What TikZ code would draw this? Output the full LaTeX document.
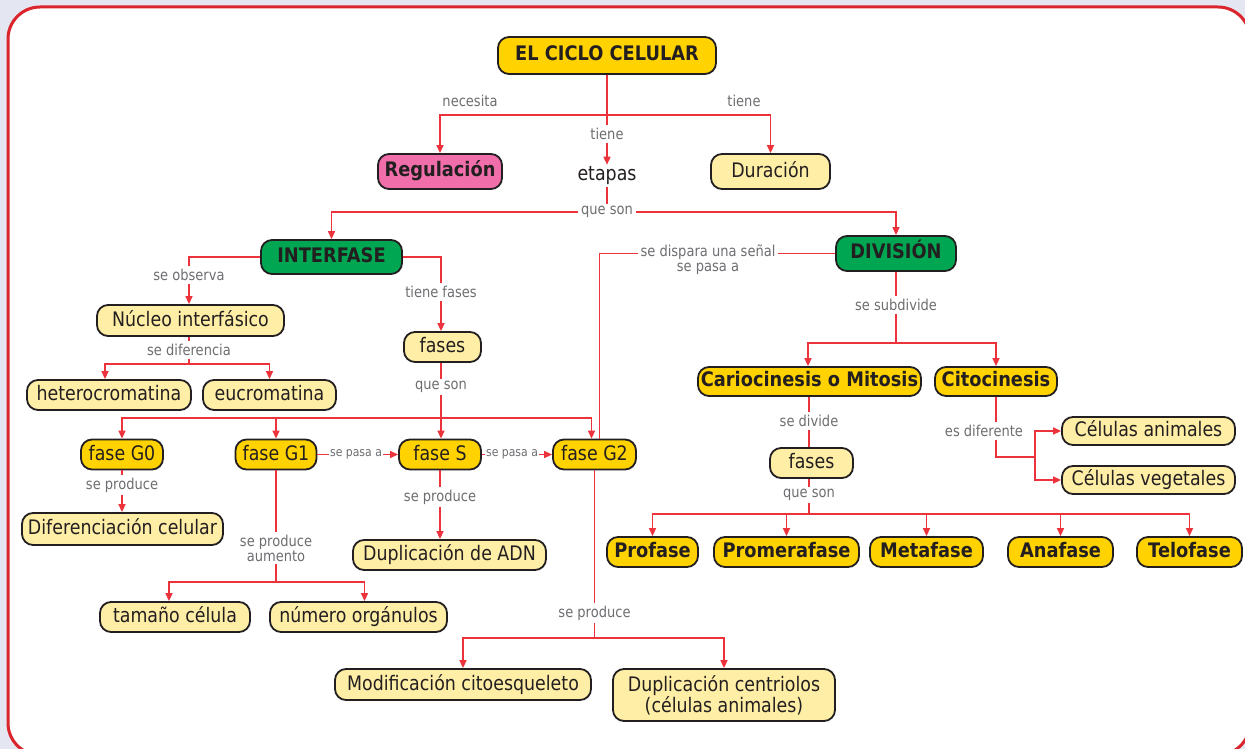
\documentclass[tikz,border=0pt]{standalone}
\usepackage{fontspec}
\setmainfont{DejaVu Sans}
\newfontfamily\mapfont{DejaVu Sans}[FakeStretch=0.87]
\newfontfamily\mapbold{DejaVu Sans}[FakeStretch=0.89]
\usepackage{tikz}
\usetikzlibrary{arrows.meta,positioning,calc}
\definecolor{mapbg}{RGB}{228,230,242}
\definecolor{mapframe}{RGB}{218,37,45}
\definecolor{mapline}{RGB}{236,50,58}
\definecolor{mapink}{RGB}{35,31,32}
\definecolor{mapgold}{RGB}{255,210,0}
\definecolor{maplight}{RGB}{255,238,166}
\definecolor{mapgreen}{RGB}{0,166,81}
\definecolor{mappink}{RGB}{240,110,170}
\definecolor{maplabel}{RGB}{109,110,113}
\tikzset{
  conceptbase/.style={rectangle, rounded corners=11pt, draw=mapink, line width=1.8pt,
                      inner sep=0pt, minimum height=30pt, text=mapink,
                      font=\mapfont\fontsize{20}{21}\selectfont},
  lightbox/.style={conceptbase, fill=maplight, text height=15pt, text depth=4pt},
  goldbox/.style={lightbox, fill=mapgold},
  keybox/.style={conceptbase, fill=mapgold, text height=14.5pt, text depth=4pt,
                 font=\mapbold\bfseries\fontsize{20}{21}\selectfont},
  plaintext/.style={inner sep=2pt, text=mapink, font=\mapfont\fontsize{20}{21}\selectfont},
  linklabel/.style={inner sep=2.5pt, fill=white, text=maplabel,
                    font=\mapfont\fontsize{15}{15}\selectfont},
  smalllabel/.style={linklabel, inner sep=1pt, font=\mapfont\fontsize{12.5}{14}\selectfont},
  conn/.style={draw=mapline, line width=1.4pt},
  connarr/.style={conn, -{Triangle[length=8pt,width=7pt]}},
}
\begin{document}
\begin{tikzpicture}[x=1pt, y=-1pt]
  \useasboundingbox (0,0) rectangle (1245,749);
  % frame
  \fill[mapbg] (0,0) rectangle (1245,749);
  \filldraw[fill=white, draw=mapframe, line width=3pt, rounded corners=32pt] (8,7) rectangle (1250,755);
  % top level
  \node[keybox, minimum width=218pt, minimum height=37pt] (ciclo) at (607,55.5) {EL CICLO CELULAR};
  \node[keybox, fill=mappink, minimum width=124pt, minimum height=35pt] (regul) at (440,171.5) {Regulación};
  \node[plaintext] (etapas) at (607,176) {etapas};
  \node[lightbox, minimum width=119pt, minimum height=35pt] (durac) at (770.5,171.5) {Duración};
  \node[keybox, fill=mapgreen, minimum width=141pt, minimum height=34pt] (interf) at (331.5,257) {INTERFASE};
  \node[keybox, fill=mapgreen, minimum width=120pt, minimum height=35pt] (divis) at (896,253.5) {DIVISIÓN};
  % interfase side
  \node[lightbox, minimum width=187pt, minimum height=31pt] (nucleo) at (190.5,320.5) {Núcleo interfásico};
  \node[lightbox, minimum width=164pt] (hetero) at (109,395) {heterocromatina};
  \node[lightbox, minimum width=133pt] (eucro) at (269.5,395) {eucromatina};
  \node[lightbox, minimum width=77pt] (fasesL) at (442.5,347) {fases};
  \node[goldbox, minimum width=82pt] (g0) at (122,454.5) {fase G0};
  \node[goldbox, minimum width=81pt] (g1) at (276,454.5) {fase G1};
  \node[goldbox, minimum width=82pt] (fS) at (440,454.5) {fase S};
  \node[goldbox, minimum width=83pt] (g2) at (594.5,454.5) {fase G2};
  \node[lightbox, minimum width=201pt, minimum height=32pt] (difer) at (122.5,529) {Diferenciación celular};
  \node[lightbox, minimum width=193pt] (adn) at (449.5,555) {Duplicación de ADN};
  \node[lightbox, minimum width=150pt] (tamano) at (175,617) {tamaño célula};
  \node[lightbox, minimum width=177pt] (numero) at (358.5,617) {número orgánulos};
  \node[lightbox, minimum width=256pt, minimum height=31pt] (modif) at (463,684.5) {Modificación citoesqueleto};
  \node[conceptbase, fill=maplight, align=center, minimum width=222pt, minimum height=52pt] (centr) at (724,695) {Duplicación centriolos\\(células animales)};
  % division side
  \node[keybox, minimum width=223pt, minimum height=29pt] (cario) at (809.5,381.5) {Cariocinesis o Mitosis};
  \node[keybox, minimum width=122pt, minimum height=29pt] (citoc) at (996,381.5) {Citocinesis};
  \node[lightbox, minimum width=83pt] (fasesR) at (811.5,463) {fases};
  \node[lightbox, minimum width=173pt, minimum height=28pt] (anim) at (1148.5,431) {Células animales};
  \node[lightbox, minimum width=173pt, minimum height=28pt] (veget) at (1148.5,480) {Células vegetales};
  \node[keybox, minimum width=91pt] (prof) at (652.5,552) {Profase};
  \node[keybox, minimum width=145pt] (prom) at (786.5,552) {Promerafase};
  \node[keybox, minimum width=113pt] (meta) at (926.5,552) {Metafase};
  \node[keybox, minimum width=105pt] (ana) at (1060.5,552) {Anafase};
  \node[keybox, minimum width=105pt] (telo) at (1189.5,552) {Telofase};
  % link labels
  \node[linklabel, fill=none] (lnecesita) at (470,101) {necesita};
  \node[linklabel, fill=none] (ltiene2) at (744,101) {tiene};
  \node[linklabel] (ltiene) at (607,134) {tiene};
  \node[linklabel] (lqueson) at (607,212) {que son};
  \node[linklabel] (lobserva) at (189,275) {se observa};
  \node[linklabel] (ltfases) at (441,292) {tiene fases};
  \node[linklabel] (ldifer) at (189,350) {se diferencia};
  \node[linklabel] (lqueson2) at (441,387) {que son};
  \node[smalllabel] (lpasa1) at (356,454.5) {se pasa a};
  \node[smalllabel] (lpasa2) at (512,454.5) {se pasa a};
  \node[linklabel] (lprod0) at (122,485) {se produce};
  \node[linklabel, align=center] (lprod1) at (276,548) {se produce\\aumento};
  \node[linklabel] (lprodS) at (440,497) {se produce};
  \node[linklabel] (lprod2) at (594.5,613) {se produce};
  \node[linklabel, align=center] (lsenal) at (708,259.5) {se dispara una señal\\se pasa a};
  \node[linklabel] (lsubdiv) at (896,305) {se subdivide};
  \node[linklabel] (ldivide) at (809,421) {se divide};
  \node[linklabel] (lqueson3) at (809,495) {que son};
  \node[linklabel] (ldiferente) at (984,431) {es diferente};
  % junctions
  \coordinate (jtop) at (607,115);
  \coordinate (jnuc) at (189,364);
  \coordinate (jfas) at (441,418);
  \coordinate (jg1) at (276,582);
  \coordinate (jg2) at (594.5,638);
  \coordinate (jdiv) at (896,343);
  \coordinate (jfasR) at (809,514);
  \coordinate (jcit) at (1035,457);
  % top connectors
  \draw[conn] (ciclo) -- (ltiene);
  \draw[connarr] (ltiene) -- (etapas);
  \draw[connarr] (jtop) -| (regul);
  \draw[connarr] (jtop) -| (durac);
  \draw[conn] (etapas) -- (lqueson);
  \draw[connarr] (lqueson) -| (interf);
  \draw[connarr] (lqueson) -| (divis);
  % interfase connectors
  \draw[conn] (interf) -| (lobserva);
  \draw[connarr] (lobserva) -- (lobserva |- nucleo.north);
  \draw[conn] (interf) -| (ltfases);
  \draw[connarr] (ltfases) -- (ltfases |- fasesL.north);
  \draw[conn] (ldifer |- nucleo.south) -- (ldifer);
  \draw[conn] (ldifer) -- (jnuc);
  \draw[connarr] (jnuc) -| ([xshift=-4pt]hetero.north);
  \draw[connarr] (jnuc) -| (eucro);
  \draw[conn] (lqueson2 |- fasesL.south) -- (lqueson2);
  \draw[connarr] (lqueson2) -- (lqueson2 |- fS.north);
  \draw[connarr] (jfas) -| (g0);
  \draw[connarr] (jfas) -| (g1);
  \draw[connarr] (jfas) -| ([xshift=-3pt]g2.north);
  \draw[conn] (g1) -- (lpasa1);
  \draw[connarr] (lpasa1) -- (fS);
  \draw[conn] (fS) -- (lpasa2);
  \draw[connarr] (lpasa2) -- (g2);
  \draw[conn] (g0) -- (lprod0);
  \draw[connarr] (lprod0) -- (lprod0 |- difer.north);
  \draw[conn] (g1) -- (lprod1);
  \draw[conn] (lprod1) -- (jg1);
  \draw[connarr] (jg1) -| ([xshift=-6pt]tamano.north);
  \draw[connarr] (jg1) -| ([xshift=6pt]numero.north);
  \draw[conn] (fS) -- (lprodS);
  \draw[connarr] (lprodS) -- (lprodS |- adn.north);
  \draw[conn] (g2) -- (lprod2);
  \draw[conn] (lprod2) -- (jg2);
  \draw[connarr] (jg2) -| (modif);
  \draw[connarr] (jg2) -| (centr);
  % division connectors
  \draw[conn] (divis.west) -- (divis.west -| lsenal.east);
  \draw[conn] (divis.west -| lsenal.west) -| ([xshift=5pt]g2.north);
  \draw[conn] (divis) -- (lsubdiv);
  \draw[conn] (lsubdiv) -- (jdiv);
  \draw[connarr] (jdiv) -| ([xshift=-1.5pt]cario.north);
  \draw[connarr] (jdiv) -| (citoc);
  \draw[conn] (ldivide |- cario.south) -- (ldivide);
  \draw[conn] (ldivide) -- (ldivide |- fasesR.north);
  \draw[conn] (lqueson3 |- fasesR.south) -- (lqueson3);
  \draw[conn] (lqueson3) -- (jfasR);
  \foreach \ph in {prof,prom,meta,ana,telo}
    \draw[connarr] (jfasR) -| (\ph);
  \draw[conn] (citoc) -- (citoc |- ldiferente.north);
  \draw[conn] (citoc |- ldiferente.south) -- (citoc |- jcit) -- (jcit);
  \draw[connarr] (jcit) |- (anim);
  \draw[connarr] (jcit) |- (veget);
\end{tikzpicture}
\end{document}
